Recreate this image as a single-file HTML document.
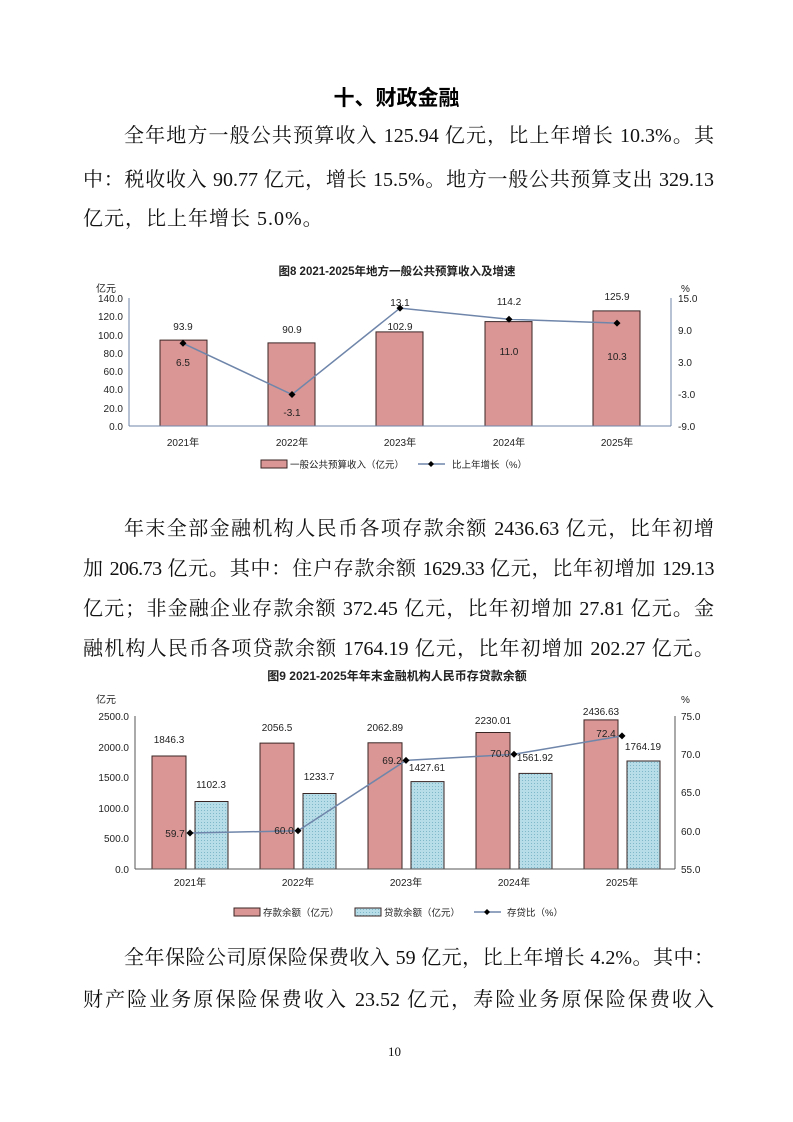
<!DOCTYPE html>
<html><head><meta charset="utf-8"><style>
body{margin:0;background:#fff;}
.pg{position:relative;width:793px;height:1122px;overflow:hidden;background:#fff;}
.t{position:absolute;font-family:"Liberation Serif","Noto Serif CJK SC",serif;font-size:20px;color:#111;white-space:nowrap;text-align:justify;text-align-last:justify;line-height:24px;}
.h{position:absolute;left:0;width:793px;text-align:center;top:82px;font-family:"Noto Sans CJK SC",sans-serif;font-weight:bold;font-size:21px;}
svg text{font-family:"Liberation Sans","Noto Sans CJK SC",sans-serif;}
</style></head><body><div class="pg">
<div class="h">十、财政金融</div>
<div class="t" style="left:124px;top:124px;width:590px">全年地方一般公共预算收入 125.94 亿元，比上年增长 10.3%。其</div>
<div class="t" style="left:83px;top:168px;width:631px">中：税收收入 90.77 亿元，增长 15.5%。地方一般公共预算支出 329.13</div>
<div class="t" style="left:83px;top:207px;text-align-last:auto;letter-spacing:1px">亿元，比上年增长 5.0%。</div>

<div class="t" style="left:124px;top:517px;width:590px">年末全部金融机构人民币各项存款余额 2436.63 亿元，比年初增</div>
<div class="t" style="left:83px;top:557px;width:631px;letter-spacing:-0.5px">加 206.73 亿元。其中：住户存款余额 1629.33 亿元，比年初增加 129.13</div>
<div class="t" style="left:83px;top:597px;width:631px">亿元；非金融企业存款余额 372.45 亿元，比年初增加 27.81 亿元。金</div>
<div class="t" style="left:83px;top:637px;width:631px">融机构人民币各项贷款余额 1764.19 亿元，比年初增加 202.27 亿元。</div>

<div class="t" style="left:124px;top:946px;width:590px">全年保险公司原保险保费收入 59 亿元，比上年增长 4.2%。其中：</div>
<div class="t" style="left:83px;top:988px;width:631px">财产险业务原保险保费收入 23.52 亿元，寿险业务原保险保费收入</div>
<div class="t" style="left:388px;top:1040px;font-size:13px;">10</div>

<svg width="793" height="1122" style="position:absolute;left:0;top:0" xmlns="http://www.w3.org/2000/svg">
<defs><pattern id="dots" width="3" height="3" patternUnits="userSpaceOnUse"><rect width="3" height="3" fill="#b7dde8"/><rect width="1" height="1" fill="#7fb8c8"/></pattern></defs>
<!-- Chart 1 -->
<text x="397" y="275" font-size="11.5" font-weight="bold" text-anchor="middle" fill="#222">图8 2021-2025年地方一般公共预算收入及增速</text>
<text x="96" y="292" font-size="10" fill="#222">亿元</text>
<text x="681" y="292" font-size="10" fill="#222">%</text>
<g font-size="10" fill="#222" text-anchor="end">
<text x="123" y="302">140.0</text><text x="123" y="320">120.0</text><text x="123" y="339">100.0</text><text x="123" y="357">80.0</text><text x="123" y="375">60.0</text><text x="123" y="393">40.0</text><text x="123" y="412">20.0</text><text x="123" y="430">0.0</text>
</g>
<g font-size="10" fill="#222">
<text x="678" y="302">15.0</text><text x="678" y="334">9.0</text><text x="678" y="366">3.0</text><text x="678" y="398">-3.0</text><text x="678" y="430">-9.0</text>
</g>
<g fill="#d99694" stroke="#3a2525" stroke-width="1">
<rect x="160" y="340.1" width="47" height="85.9"/><rect x="268" y="342.9" width="47" height="83.1"/><rect x="376" y="331.9" width="47" height="94.1"/><rect x="485" y="321.6" width="47" height="104.4"/><rect x="593" y="310.9" width="47" height="115.1"/>
</g>
<line x1="129" y1="298" x2="129" y2="426" stroke="#6f86aa"/><line x1="671" y1="298" x2="671" y2="426" stroke="#6f86aa"/>
<line x1="129" y1="426" x2="671" y2="426" stroke="#6f86aa"/>
<polyline points="183,343.3 292,394.5 400,308.1 509,319.3 617,323.1" fill="none" stroke="#6f86aa" stroke-width="1.5"/>
<g fill="#000"><path d="M183 339.8l3.5 3.5-3.5 3.5-3.5-3.5z"/><path d="M292 391l3.5 3.5-3.5 3.5-3.5-3.5z"/><path d="M400 304.6l3.5 3.5-3.5 3.5-3.5-3.5z"/><path d="M509 315.8l3.5 3.5-3.5 3.5-3.5-3.5z"/><path d="M617 319.6l3.5 3.5-3.5 3.5-3.5-3.5z"/></g>
<g font-size="10" fill="#222" text-anchor="middle">
<text x="183" y="330">93.9</text><text x="292" y="333">90.9</text><text x="400" y="330">102.9</text><text x="509" y="305">114.2</text><text x="617" y="300">125.9</text>
<text x="183" y="366">6.5</text><text x="292" y="416">-3.1</text><text x="400" y="306">13.1</text><text x="509" y="355">11.0</text><text x="617" y="360">10.3</text>
<text x="183" y="446">2021年</text><text x="292" y="446">2022年</text><text x="400" y="446">2023年</text><text x="509" y="446">2024年</text><text x="617" y="446">2025年</text>
</g>
<rect x="261" y="460" width="26" height="8" fill="#d99694" stroke="#3a2525"/>
<text x="290" y="468" font-size="9.5" fill="#222">一般公共预算收入（亿元）</text>
<line x1="418" y1="464" x2="445" y2="464" stroke="#6f86aa" stroke-width="1.5"/><path d="M431 461l3 3-3 3-3-3z"/>
<text x="452" y="468" font-size="9.5" fill="#222">比上年增长（%）</text>

<!-- Chart 2 -->
<text x="397" y="680" font-size="12" font-weight="bold" text-anchor="middle" fill="#222">图9 2021-2025年年末金融机构人民币存贷款余额</text>
<text x="96" y="703" font-size="10" fill="#222">亿元</text>
<text x="681" y="703" font-size="10" fill="#222">%</text>
<g font-size="10" fill="#222" text-anchor="end">
<text x="129" y="720">2500.0</text><text x="129" y="751">2000.0</text><text x="129" y="781">1500.0</text><text x="129" y="812">1000.0</text><text x="129" y="842">500.0</text><text x="129" y="873">0.0</text>
</g>
<g font-size="10" fill="#222">
<text x="681" y="720">75.0</text><text x="681" y="758">70.0</text><text x="681" y="796">65.0</text><text x="681" y="835">60.0</text><text x="681" y="873">55.0</text>
</g>
<g fill="#d99694" stroke="#3a2525">
<rect x="152" y="756" width="34" height="113"/><rect x="260" y="743.1" width="34" height="125.9"/><rect x="368" y="742.8" width="34" height="126.2"/><rect x="476" y="732.5" width="34" height="136.5"/><rect x="584" y="719.9" width="34" height="149.1"/>
</g>
<g fill="url(#dots)" stroke="#3a2525">
<rect x="195" y="801.5" width="33" height="67.5"/><rect x="303" y="793.5" width="33" height="75.5"/><rect x="411" y="781.6" width="33" height="87.4"/><rect x="519" y="773.4" width="33" height="95.6"/><rect x="627" y="761" width="33" height="108"/>
</g>
<line x1="135" y1="716" x2="135" y2="869" stroke="#555"/><line x1="675" y1="716" x2="675" y2="869" stroke="#555"/>
<line x1="135" y1="869" x2="675" y2="869" stroke="#555"/>
<polyline points="190,833 298,830.8 406,760.4 514,754.3 622,735.9" fill="none" stroke="#6f86aa" stroke-width="1.5"/>
<g fill="#000"><path d="M190 829.5l3.5 3.5-3.5 3.5-3.5-3.5z"/><path d="M298 827.3l3.5 3.5-3.5 3.5-3.5-3.5z"/><path d="M406 756.9l3.5 3.5-3.5 3.5-3.5-3.5z"/><path d="M514 750.8l3.5 3.5-3.5 3.5-3.5-3.5z"/><path d="M622 732.4l3.5 3.5-3.5 3.5-3.5-3.5z"/></g>
<g font-size="10" fill="#222" text-anchor="middle">
<text x="169" y="743">1846.3</text><text x="211" y="788">1102.3</text><text x="277" y="731">2056.5</text><text x="319" y="780">1233.7</text><text x="385" y="731">2062.89</text><text x="427" y="771">1427.61</text><text x="493" y="724">2230.01</text><text x="535" y="761">1561.92</text><text x="601" y="715">2436.63</text><text x="643" y="750">1764.19</text>
<text x="175" y="837">59.7</text><text x="284" y="834">60.0</text><text x="392" y="764">69.2</text><text x="500" y="757">70.0</text><text x="606" y="737">72.4</text>
<text x="190" y="886">2021年</text><text x="298" y="886">2022年</text><text x="406" y="886">2023年</text><text x="514" y="886">2024年</text><text x="622" y="886">2025年</text>
</g>
<rect x="234" y="908" width="26" height="8" fill="#d99694" stroke="#3a2525"/>
<text x="263" y="916" font-size="9.5" fill="#222">存款余额（亿元）</text>
<rect x="355" y="908" width="26" height="8" fill="url(#dots)" stroke="#3a2525"/>
<text x="384" y="916" font-size="9.5" fill="#222">贷款余额（亿元）</text>
<line x1="474" y1="912" x2="501" y2="912" stroke="#6f86aa" stroke-width="1.5"/><path d="M487 909l3 3-3 3-3-3z"/>
<text x="507" y="916" font-size="9.5" fill="#222">存贷比（%）</text>
</svg>
</div></body></html>
